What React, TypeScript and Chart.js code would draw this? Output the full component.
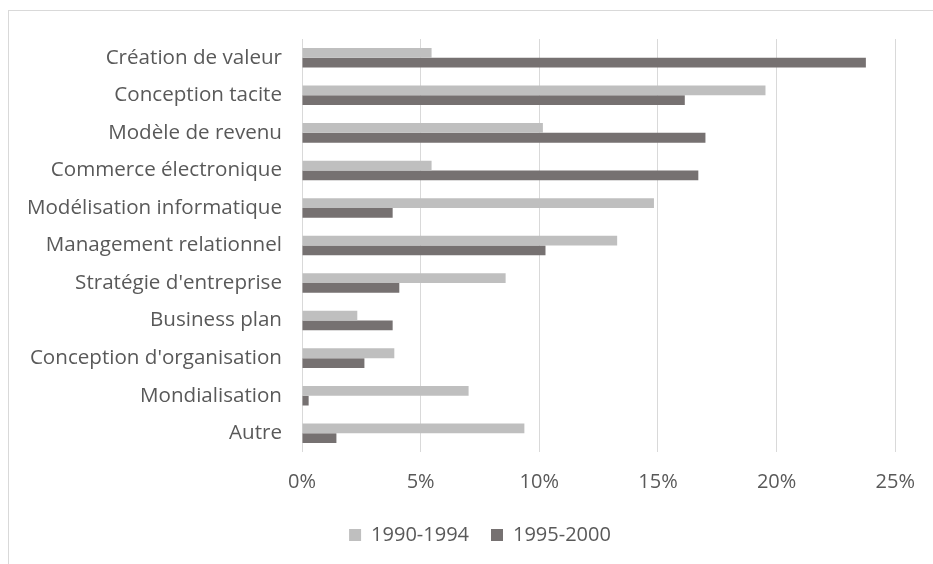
import React, { useEffect, useRef } from "react";
import { Chart, registerables } from "chart.js";

Chart.register(...registerables);

const categories = [
  "Création de valeur",
  "Conception tacite",
  "Modèle de revenu",
  "Commerce électronique",
  "Modélisation informatique",
  "Management relationnel",
  "Stratégie d'entreprise",
  "Business plan",
  "Conception d'organisation",
  "Mondialisation",
  "Autre",
];

const series1990 = [5.46, 19.53, 10.15, 5.46, 14.83, 13.28, 8.58, 2.33, 3.89, 7.02, 9.37];
const series1995 = [23.76, 16.13, 17.0, 16.7, 3.82, 10.26, 4.1, 3.82, 2.63, 0.28, 1.45];

const seriesNames = ["1990-1994", "1995-2000"];
const xTicks = [0, 5, 10, 15, 20, 25];

const FONT = "'Open Sans', sans-serif";
const TEXT = "#595959";

export default function App() {
  const ref = useRef<HTMLCanvasElement | null>(null);

  useEffect(() => {
    if (!ref.current) return;
    const chart = new Chart(ref.current, {
      type: "bar",
      data: {
        labels: categories,
        datasets: [
          {
            label: seriesNames[0],
            data: series1990,
            backgroundColor: "#bfbfbf",
            borderWidth: 0,
            categoryPercentage: 0.52,
            barPercentage: 1,
          },
          {
            label: seriesNames[1],
            data: series1995,
            backgroundColor: "#767171",
            borderWidth: 0,
            categoryPercentage: 0.52,
            barPercentage: 1,
          },
        ],
      },
      options: {
        indexAxis: "y",
        responsive: false,
        animation: false,
        layout: { padding: { left: 64, right: 37, top: 39, bottom: 9 } },
        plugins: {
          legend: {
            position: "bottom",
            labels: {
              boxWidth: 12,
              boxHeight: 12,
              padding: 22,
              color: TEXT,
              font: { family: FONT, size: 20 },
            },
          },
          tooltip: { enabled: false },
        },
        scales: {
          x: {
            min: xTicks[0],
            max: xTicks[xTicks.length - 1],
            ticks: {
              stepSize: 5,
              color: TEXT,
              font: { family: FONT, size: 20 },
              padding: 18,
              callback: (v: any) => v + "%",
            },
            grid: { color: "#d9d9d9", lineWidth: 1, drawTicks: false },
            border: { display: false },
            afterFit: (scale: any) => {
              scale.height = 51;
            },
          },
          y: {
            ticks: {
              color: TEXT,
              font: { family: FONT, size: 20.6 },
              padding: 20,
              autoSkip: false,
            },
            grid: { display: false, drawTicks: false },
            border: { display: false },
            afterFit: (scale: any) => {
              scale.width = 302 - 64;
              // let the long category labels extend left of the scale box
              scale._computeLabelArea = () => undefined;
            },
          },
        },
      },
    });
    return () => chart.destroy();
  }, []);

  return (
    <div>
      <div
        style={{
          position: "absolute",
          left: 8,
          top: 10,
          width: 925,
          height: 554,
          boxSizing: "border-box",
          borderLeft: "1px solid #d9d9d9",
          borderTop: "1px solid #d9d9d9",
        }}
      />
      <canvas
        ref={ref}
        width={933}
        height={564}
        style={{ position: "absolute", left: 0, top: 0, width: 933, height: 564 }}
      />
    </div>
  );
}
